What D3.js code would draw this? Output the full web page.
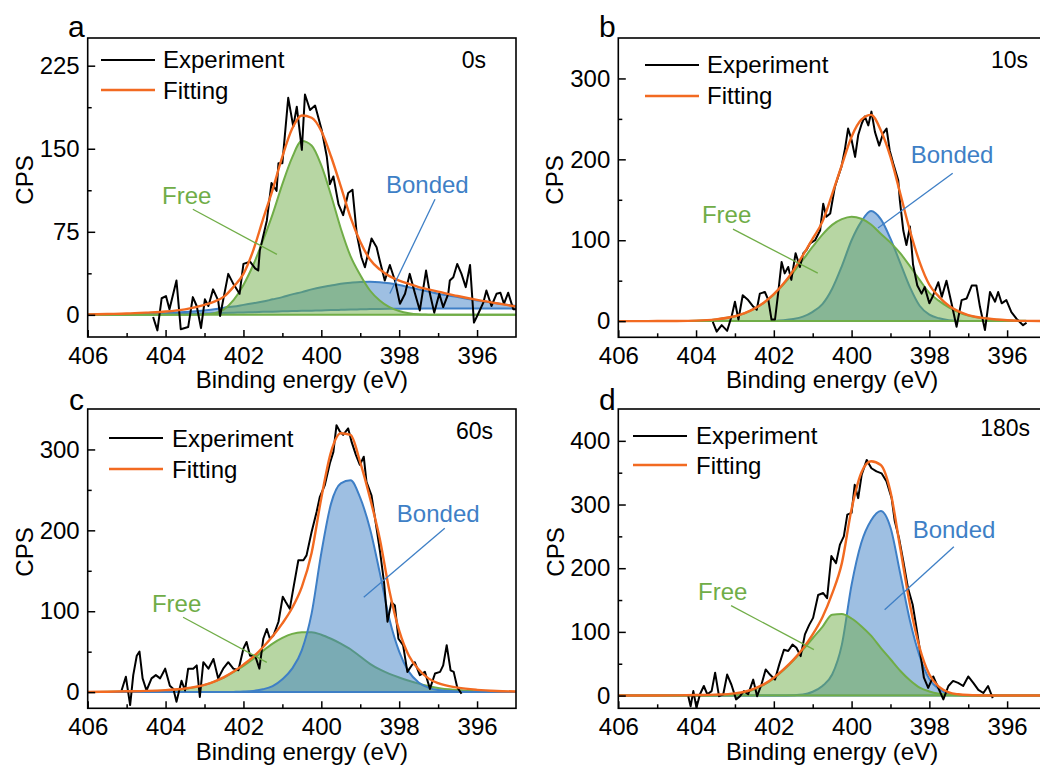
<!DOCTYPE html>
<html><head><meta charset="utf-8">
<script src="https://cdn.jsdelivr.net/npm/d3@7"></script>
<style>body{margin:0;background:#fff} svg{display:block} text{font-family:"Liberation Sans",Arial,sans-serif}</style>
</head><body><svg id="chart" width="1040" height="767"></svg>
<script>
// ---------- DATA ----------
const xTicks = [406, 404, 402, 400, 398, 396];
const xMinor = [405, 403, 401, 399, 397];
const yTicksA = [0, 75, 150, 225], yMinorA = [37.5, 112.5, 187.5];
const yTicksB = [0, 100, 200, 300], yMinorB = [50, 150, 250];
const yTicksC = [0, 100, 200, 300], yMinorC = [50, 150, 250];
const yTicksD = [0, 100, 200, 300, 400], yMinorD = [50, 150, 250, 350];
const timeLabels = ["0s", "10s", "60s", "180s"];
const panelLetters = ["a", "b", "c", "d"];
const legendNames = ["Experiment", "Fitting"];
const peakNames = ["Free", "Bonded"];

// energy grid for fitted curves (eV)
const energyGrid = [406,405.5,405,404.5,404,403.5,403,402.75,402.5,402.25,402,401.75,401.5,401.25,401,400.75,400.5,400.25,400,399.75,399.5,399.25,399,398.75,398.5,398.25,398,397.75,397.5,397.25,397,396.5,396,395.5,395];

// panel a (0s)
const freeA = [0,0,0,0,0,0.1,0.5, 1.5,5,13.5,27,45,67,91,118,142,157,153,135,108,78,53,36,22,13,7,3.5,1.5,0.5,0.2,0, 0,0,0,0];
const bondA = [0.2,0.3,0.5,1,1.5,2.5,4, 5,6.5,7.5,9,10.5,12,14,16,18.5,20.5,23,25,26.5,28,29,29.7,29.8,29.5,28.5,27,25,23,21,19, 16,13,10.5,8];
const bondBaseA = [0,0.1,0.2,0.4,0.6,0.9,1.2, 1.4,1.7,1.9,2.2,2.4,2.7,2.9,3.2,3.4,3.6,3.8,4,4.3,4.5,4.8,5,5.2,5.3,5.4,5.5,5.6,5.6,5.7,5.7, 5.7,5.7,5.7,5.7];
const fitA = [0.4,0.8,1.2,2,3,5,9, 12,16.5,25.5,37,58,86,113,143,168,180,178,166,143,116,88,66,50,41,35,31,28,25,23,21, 17,13.5,10.5,7.5];
const expA = [[404.32,-2],[404.21,-14],[404.1,15],[403.99,17],[403.9,5],[403.72,31],[403.61,-13],[403.42,-11],[403.3,16],[403.2,8],[403.09,-12],[402.99,14],[402.9,8],[402.78,23],[402.65,13],[402.6,-1],[402.39,37],[402.26,28],[402.1,19],[402.0,46],[401.83,48],[401.7,42],[401.62,40],[401.58,58],[401.4,85],[401.28,119],[401.15,112],[401.1,137],[401.0,137],[400.85,196],[400.72,170],[400.63,188],[400.5,149],[400.42,199],[400.29,185],[400.16,189],[399.99,167],[399.86,143],[399.78,118],[399.69,125],[399.56,100],[399.44,90],[399.31,110],[399.2,113],[399.09,73],[398.97,52],[398.88,43],[398.71,69],[398.58,61],[398.5,49],[398.37,31],[398.24,45],[398.11,31],[397.98,10],[397.85,19],[397.73,37],[397.6,20],[397.47,4],[397.31,40],[397.21,19],[397.1,2],[396.97,19],[396.87,7],[396.74,19],[396.7,31],[396.61,34],[396.51,46],[396.4,37],[396.29,25],[396.18,45],[396.08,-7],[395.97,1],[395.84,11],[395.76,22],[395.63,8],[395.5,19],[395.4,20],[395.31,10],[395.2,20],[395.07,5],[395.0,5]];

// panel b (10s)
const freeB = [0,0,0.1,0.2,0.6,2.1,6, 9.8,15.4,23,33,45.5,60,76,92,107,119,126,129,126.5,119.5,108,97,84,68,51,35,25,17,11,7, 3,1,0.3,0.1];
const bondB = [0,0,0,0,0,0,0, 0,0,0.1,0.3,1,2.5,5.5,11.5,21,40,68,100,123,136,126,102,72,42,19,8,3.5,1.2,0.4,0.1, 0,0,0,0];
const fitB = [0,0,0.1,0.2,0.6,2.1,6, 9.8,15.4,23.1,33.3,46.5,62.5,81.5,102,123,157,193,228,249,255,236,203,158,112,73,45,30,19,12,7.5, 3.2,1.1,0.3,0.1];
const expB = [[403.57,-1],[403.47,-13],[403.34,-5],[403.2,-12],[403.08,7],[403.0,24],[402.91,2],[402.8,32],[402.66,26],[402.53,18],[402.44,14],[402.36,34],[402.23,36],[402.14,26],[402.06,2],[401.97,2],[401.89,34],[401.8,73],[401.72,59],[401.63,67],[401.55,51],[401.44,84],[401.33,67],[401.24,84],[401.16,88],[401.07,96],[400.94,100],[400.81,112],[400.73,145],[400.65,129],[400.55,133],[400.43,166],[400.35,178],[400.26,191],[400.17,213],[400.09,238],[400.0,224],[399.91,203],[399.83,230],[399.74,244],[399.66,253],[399.57,242],[399.49,259],[399.4,234],[399.29,217],[399.19,232],[399.1,238],[399.02,211],[398.93,195],[398.8,174],[398.76,150],[398.67,112],[398.59,94],[398.5,117],[398.42,70],[398.31,44],[398.2,34],[398.12,42],[398.0,22],[397.9,32],[397.77,48],[397.68,30],[397.56,50],[397.43,22],[397.3,-7],[397.17,26],[397.04,28],[396.91,44],[396.79,44],[396.7,18],[396.57,-11],[396.44,36],[396.31,24],[396.23,36],[396.14,22],[396.02,26],[395.89,11],[395.76,3],[395.59,-5],[395.5,-2]];

// panel c (60s)
const freeC = [0.2,0.4,0.8,1.3,2,4,9, 13,18,25,32.5,41,51,60,67,72,74,74,71,66,60,53,44,35,28,22.5,18,14,10.5,7.5,5, 2.5,1,0.4,0.2];
const bondC = [0,0,0,0,0,0,0, 0,0,0.3,0.7,1.5,3.5,7.5,16,29,52,97,172,233,258,262,240,202,148,90,50,25,12,5.5,2.5, 0.8,0.2,0,0];
const fitC = [0.2,0.5,1,1.5,2.5,4.5,9, 13,18.5,25.5,34,43.5,55.5,69,85,104,130,172,240,297,320,318,284,240,190,125,76,45,28,17,11, 5.5,2.8,1.4,0.8];
const expC = [[405.13,2],[405.02,19],[404.91,-16],[404.83,21],[404.74,45],[404.67,50],[404.59,17],[404.49,2],[404.36,17],[404.25,21],[404.14,17],[404.01,29],[403.89,8],[403.8,4],[403.72,-12],[403.59,14],[403.5,2],[403.42,29],[403.29,29],[403.2,33],[403.12,-6],[403.03,37],[402.9,29],[402.77,41],[402.65,17],[402.52,29],[402.39,37],[402.26,29],[402.13,27],[402.0,54],[401.92,62],[401.83,45],[401.7,45],[401.59,29],[401.49,66],[401.4,78],[401.32,66],[401.23,70],[401.1,87],[400.99,118],[400.91,111],[400.81,103],[400.72,128],[400.59,163],[400.46,163],[400.38,169],[400.25,198],[400.12,223],[400.04,241],[399.91,256],[399.78,283],[399.69,297],[399.61,330],[399.52,322],[399.44,318],[399.31,326],[399.22,309],[399.11,293],[399.01,281],[398.91,291],[398.84,260],[398.71,243],[398.58,202],[398.49,173],[398.39,136],[398.3,87],[398.2,111],[398.11,107],[398.02,66],[397.9,58],[397.79,25],[397.68,33],[397.6,37],[397.47,21],[397.34,25],[397.21,4],[397.08,23],[396.95,25],[396.87,33],[396.78,58],[396.68,27],[396.6,25],[396.51,6],[396.4,-2]];

// panel d (180s)
const freeD = [0,0,0,0,0.1,0.5,2.5, 5,10,17,27,40,55,72,90,108,127,128,121,109,94,75,57,39,24,12.5,6.5,3,1.2,0.5,0.2, 0,0,0,0];
const bondD = [0,0,0,0,0,0,0, 0,0,0,0,0.2,0.5,1.5,6,15,33,80,174,240,275,290,264,192,118,62,26,10,3,1,0.3, 0,0,0,0];
const fitD = [0,0,0.1,0.3,0.8,1.5,3.5, 6,11,18,28,41,56,74,96,123,160,208,293,350,368,362,320,232,143,75,33,13.5,5,2,0.8, 0.2,0.1,0,0];
const expD = [[404.2,-1],[404.14,-17],[404.07,7],[403.99,-19],[403.9,2],[403.8,15],[403.71,2],[403.6,7],[403.51,36],[403.41,-1],[403.3,2],[403.2,33],[403.09,17],[402.97,-6],[402.87,-1],[402.77,7],[402.66,2],[402.53,25],[402.43,-1],[402.32,17],[402.21,41],[402.1,33],[401.97,25],[401.86,49],[401.74,72],[401.63,70],[401.52,80],[401.42,75],[401.31,62],[401.2,96],[401.09,111],[400.99,122],[400.86,158],[400.73,161],[400.63,153],[400.52,219],[400.4,208],[400.3,237],[400.2,250],[400.11,284],[400.0,287],[399.92,331],[399.83,310],[399.74,347],[399.61,370],[399.49,357],[399.36,352],[399.23,349],[399.1,336],[398.97,310],[398.89,274],[398.78,247],[398.67,211],[398.55,169],[398.43,143],[398.33,106],[398.24,70],[398.14,28],[398.03,12],[397.9,30],[397.77,12],[397.64,-6],[397.51,15],[397.39,23],[397.26,20],[397.13,15],[397.0,30],[396.87,20],[396.74,9],[396.61,4],[396.49,15],[396.37,-4]];

// annotation anchors in data units [energy, CPS]: text, line start, line end
const annotFreeA = [[404.09,99.9],[403.30,95.4],[401.14,54.6]];
const annotBondA = [[398.34,109.9],[397.08,104.4],[398.24,19.3]];
const annotFreeB = [[403.85,121.1],[403.05,113.7],[400.87,59.3]];
const annotBondB = [[398.48,195.3],[397.40,182.9],[399.32,115]];
const annotFreeC = [[404.35,98.6],[403.55,92.5],[401.4,36.8]];
const annotBondC = [[398.06,210],[396.83,202.6],[398.91,117.2]];
const annotFreeD = [[403.95,150.6],[403.10,141.2],[400.97,72.2]];
const annotBondD = [[398.43,247.8],[397.37,233.7],[399.15,134.9]];

// ---------- LAYOUT ----------
const COL = {green:"#70ad47", blue:"#3e7fc6", orange:"#f26a21", black:"#000"};
const FONT = '"Liberation Sans", Arial, sans-serif';
const panels = [
  {k:0, left:87.7, right:516, top:38, bottom:337, yDom:[-20,250], yT:yTicksA, yM:yMinorA, exp:expA, free:freeA, bond:bondA, base:bondBaseA, fit:fitA, blueTop:false,
   letter:[68,37.3], time:[486,68], leg:{x1:101,x2:155,y1:60,y2:90,tx:163,t1:68,t2:99}, cps:[33,180], xt:387, af:annotFreeA, ab:annotBondA},
  {k:1, left:618.3, right:1046, top:38, bottom:337.3, yDom:[-20,350], yT:yTicksB, yM:yMinorB, exp:expB, free:freeB, bond:bondB, base:null, fit:fitB, blueTop:false,
   letter:[599,37.3], time:[1028,68], leg:{x1:645,x2:699,y1:65,y2:96,tx:707,t1:73,t2:104}, cps:[563,180], xt:387, af:annotFreeB, ab:annotBondB},
  {k:2, left:87.7, right:516, top:409, bottom:708.3, yDom:[-20,350], yT:yTicksC, yM:yMinorC, exp:expC, free:freeC, bond:bondC, base:null, fit:fitC, blueTop:true,
   letter:[69,410], time:[493,439], leg:{x1:109,x2:163,y1:438,y2:469,tx:172,t1:447,t2:478}, cps:[33,552], xt:759, af:annotFreeC, ab:annotBondC},
  {k:3, left:618.3, right:1046, top:409, bottom:708.3, yDom:[-20,450], yT:yTicksD, yM:yMinorD, exp:expD, free:freeD, bond:bondD, base:null, fit:fitD, blueTop:false,
   letter:[599,410], time:[1030,436], leg:{x1:633,x2:687,y1:436,y2:465,tx:696,t1:444,t2:474}, cps:[564,552], xt:759, af:annotFreeD, ab:annotBondD}
];

const svg = d3.select("#chart");
const defs = svg.append("defs");

panels.forEach(p => {
  const x = d3.scaleLinear().domain([406,395]).range([p.left, p.right]);
  const y = d3.scaleLinear().domain(p.yDom).range([p.bottom, p.top]);
  const g = svg.append("g");
  const cid = "clip" + p.k;
  defs.append("clipPath").attr("id", cid).append("rect")
    .attr("x", p.left).attr("y", p.top).attr("width", p.right - p.left).attr("height", p.bottom - p.top);
  const plot = g.append("g").attr("clip-path", `url(#${cid})`);

  const freePts = energyGrid.map((e,i) => ({e, t:p.free[i], b:0}));
  const bondPts = energyGrid.map((e,i) => ({e, t:p.bond[i], b:p.base ? p.base[i] : 0}));
  const fitPts = energyGrid.map((e,i) => ({e, t:p.fit[i]}));

  const area = d3.area().x(d => x(d.e)).y0(d => y(d.b)).y1(d => y(d.t)).curve(d3.curveMonotoneX);
  const lineT = d3.line().x(d => x(d.e)).y(d => y(d.t)).curve(d3.curveMonotoneX);
  const lineB = d3.line().x(d => x(d.e)).y(d => y(d.b)).curve(d3.curveMonotoneX);

  function drawBlue() {
    plot.append("path").datum(bondPts).attr("d", area).attr("fill", COL.blue).attr("fill-opacity", 0.5);
    plot.append("path").datum(bondPts).attr("d", lineB).attr("fill", "none").attr("stroke", COL.blue).attr("stroke-width", 2);
    plot.append("path").datum(bondPts).attr("d", lineT).attr("fill", "none").attr("stroke", COL.blue).attr("stroke-width", 2);
  }
  function drawGreen() {
    plot.append("path").datum(freePts).attr("d", area).attr("fill", COL.green).attr("fill-opacity", 0.5);
    plot.append("path").datum(freePts).attr("d", lineB).attr("fill", "none").attr("stroke", COL.green).attr("stroke-width", 2);
    plot.append("path").datum(freePts).attr("d", lineT).attr("fill", "none").attr("stroke", COL.green).attr("stroke-width", 2);
  }
  if (p.blueTop) { drawGreen(); drawBlue(); } else { drawBlue(); drawGreen(); }

  plot.append("path").datum(p.exp)
    .attr("d", d3.line().x(d => x(d[0])).y(d => y(d[1])))
    .attr("fill", "none").attr("stroke", COL.black).attr("stroke-width", 2).attr("stroke-linejoin", "round");
  plot.append("path").datum(fitPts).attr("d", lineT)
    .attr("fill", "none").attr("stroke", COL.orange).attr("stroke-width", 2.4);

  // frame
  g.append("rect").attr("x", p.left).attr("y", p.top).attr("width", p.right - p.left).attr("height", p.bottom - p.top)
    .attr("fill", "none").attr("stroke", "#000").attr("stroke-width", 1.6);

  // axes
  const ax = g.append("g").attr("transform", `translate(0,${p.bottom})`)
    .call(d3.axisBottom(x).tickValues(xTicks).tickSizeInner(-7).tickSizeOuter(0).tickPadding(10).tickFormat(d3.format("d")));
  const axm = g.append("g").attr("transform", `translate(0,${p.bottom})`)
    .call(d3.axisBottom(x).tickValues(xMinor).tickSizeInner(-4).tickSizeOuter(0).tickFormat(""));
  const ay = g.append("g").attr("transform", `translate(${p.left},0)`)
    .call(d3.axisLeft(y).tickValues(p.yT).tickSizeInner(-7.5).tickSizeOuter(0).tickPadding(8).tickFormat(d3.format("d")));
  const aym = g.append("g").attr("transform", `translate(${p.left},0)`)
    .call(d3.axisLeft(y).tickValues(p.yM).tickSizeInner(-4).tickSizeOuter(0).tickFormat(""));
  [ax, axm, ay, aym].forEach(a => {
    a.select(".domain").remove();
    a.selectAll("line").attr("stroke", "#000").attr("stroke-width", 1.5);
    a.selectAll("text").attr("font-size", 24).attr("font-family", FONT).attr("fill", "#000");
  });

  // titles
  g.append("text").attr("x", (p.left + p.right) / 2).attr("y", p.xt + 1).attr("text-anchor", "middle")
    .attr("font-size", 24).text("Binding energy (eV)");
  g.append("text").attr("transform", `translate(${p.cps[0]},${p.cps[1]}) rotate(-90)`).attr("text-anchor", "middle")
    .attr("font-size", 24).text("CPS");
  g.append("text").attr("x", p.letter[0]).attr("y", p.letter[1]).attr("font-size", 30).text(panelLetters[p.k]);
  g.append("text").attr("x", p.time[0]).attr("y", p.time[1]).attr("text-anchor", "end").attr("font-size", 23).text(timeLabels[p.k]);

  // legend
  const L = p.leg;
  g.append("line").attr("x1", L.x1).attr("x2", L.x2).attr("y1", L.y1).attr("y2", L.y1).attr("stroke", COL.black).attr("stroke-width", 2);
  g.append("line").attr("x1", L.x1).attr("x2", L.x2).attr("y1", L.y2).attr("y2", L.y2).attr("stroke", COL.orange).attr("stroke-width", 2.4);
  g.append("text").attr("x", L.tx).attr("y", L.t1).attr("font-size", 24).text(legendNames[0]);
  g.append("text").attr("x", L.tx).attr("y", L.t2).attr("font-size", 24).text(legendNames[1]);

  // annotations
  [[p.af, COL.green, peakNames[0]], [p.ab, COL.blue, peakNames[1]]].forEach(([a, c, name]) => {
    g.append("text").attr("x", x(a[0][0])).attr("y", y(a[0][1])).attr("font-size", 24).attr("fill", c).text(name);
    g.append("line").attr("x1", x(a[1][0])).attr("y1", y(a[1][1])).attr("x2", x(a[2][0])).attr("y2", y(a[2][1]))
      .attr("stroke", c).attr("stroke-width", 1.3);
  });
});
</script>
</body></html>
